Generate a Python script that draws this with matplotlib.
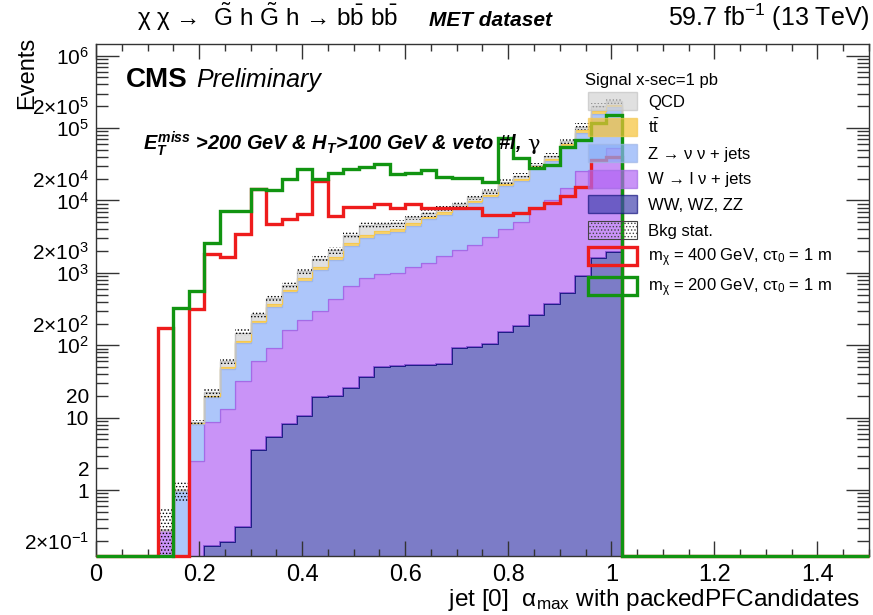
import numpy as np
import matplotlib.pyplot as plt
from matplotlib.patches import Patch
from matplotlib.ticker import FixedLocator, FuncFormatter

plt.rcParams['font.family'] = ['Liberation Sans', 'DejaVu Sans']
plt.rcParams['mathtext.fontset'] = 'custom'
plt.rcParams['mathtext.rm'] = 'Liberation Sans'
plt.rcParams['mathtext.it'] = 'Liberation Sans:italic:bold'
plt.rcParams['mathtext.bf'] = 'Liberation Sans:bold'
plt.rcParams['hatch.linewidth'] = 0.6

# 50 bins of width 0.03 between 0 and 1.5
edges = np.arange(51) * 0.03

# background yields per bin (events)
ww = [0, 0, 0, 0, 0, 0, 0, 0.17, 0.19, 0.31, 3.6, 5.4, 8.3, 10.4, 19.3, 19.8, 26, 37, 50, 52,
      53, 54, 55, 91, 96, 105, 152, 187, 265, 373, 530, 915, 1600, 1950, 0, 0, 0, 0, 0, 0,
      0, 0, 0, 0, 0, 0, 0, 0, 0, 0]
wjets = [0, 0, 0, 0, 0.28, 0, 2.5, 8.5, 12.9, 31.4, 56.2, 86.6, 156.7, 213.6, 281.7, 421, 641, 808, 910, 955,
         1164, 1298, 1645, 1979, 2344, 3075, 3868, 4913, 7335, 9727, 14470, 24685, 35400, 51550, 0, 0, 0, 0, 0, 0,
         0, 0, 0, 0, 0, 0, 0, 0, 0, 0]
zjets = [0, 0, 0, 0, 0, 1.0, 5.8, 10.6, 34.3, 75.3, 142, 250, 374, 557, 796, 1069, 1703, 2175, 2470, 2693,
         3253, 4148, 4700, 5630, 6910, 8120, 11780, 13300, 21400, 25000, 41500, 60700, 120000, 139500, 0, 0, 0, 0, 0, 0,
         0, 0, 0, 0, 0, 0, 0, 0, 0, 0]
ttbar = [0, 0, 0, 0, 0, 0, 0.1, 0.6, 2.6, 8, 18, 30, 41, 69, 103, 130, 210, 280, 320, 280,
         380, 400, 480, 500, 600, 750, 900, 1100, 700, 2400, 3500, 6700, 13000, 15000, 0, 0, 0, 0, 0, 0,
         0, 0, 0, 0, 0, 0, 0, 0, 0, 0]
qcd = [0, 0, 0, 0, 0, 0, 0.2, 2.5, 10, 35, 50, 78, 90, 210, 380, 440, 720, 1250, 950, 880,
       1040, 740, 760, 760, 1150, 1550, 1100, 2600, 1300, 4000, 6800, 12000, 33000, 28500, 0, 0, 0, 0, 0, 0,
       0, 0, 0, 0, 0, 0, 0, 0, 0, 0]
bkg_stat = [0, 0, 0, 0, 0.26, 0.3, 0.8, 3.6, 7, 17, 30, 50, 70, 120, 180, 230, 370, 500, 520, 490,
            590, 660, 760, 900, 1100, 1400, 1800, 2200, 2300, 4200, 6700, 11000, 20000, 24000, 0, 0, 0, 0, 0, 0,
            0, 0, 0, 0, 0, 0, 0, 0, 0, 0]

# signal yields for 1 pb
sig_400 = [0, 0, 0, 0, 174, 0, 318, 1820, 1670, 3430, 14300, 4810, 5520, 6600, 18800, 6140, 8160, 8160, 9080, 8000,
           9080, 8000, 8000, 7800, 7800, 6340, 6340, 6820, 8000, 9350, 11600, 15200, 36000, 40500, 0, 0, 0, 0, 0, 0,
           0, 0, 0, 0, 0, 0, 0, 0, 0, 0]
sig_200 = [0, 0, 0, 0, 0, 328, 569, 2550, 7190, 7190, 14300, 13800, 20000, 26900, 19600, 24300, 26900, 29000, 31600, 23500,
           24300, 26000, 21400, 20700, 20700, 18000, 72000, 39000, 27800, 30800, 54700, 68700, 118000, 150000, 0, 0, 0, 0, 0, 0,
           0, 0, 0, 0, 0, 0, 0, 0, 0, 0]

ymin, ymax = 0.123, 1.45e6
floor = 1e-3

fig = plt.figure(figsize=(8.73, 6.15), dpi=100)
ax = fig.add_axes([96 / 873, 59 / 615, 773 / 873, 512 / 615])
ax.set_yscale('log')

# stacked backgrounds, bottom to top
layers = [
    (ww, '#4545b0', '#161680', 1.3),
    (wjets, '#b265f4', '#a46be6', 1.0),
    (zjets, '#8aaef8', '#9fb6e6', 1.0),
    (ttbar, '#f6c236', '#f5c850', 1.0),
    (qcd, '#d3d3d3', '#c4c4c4', 1.0),
]
bottom = np.zeros(50)
for vals, fc, ec, lw in layers:
    top = bottom + np.array(vals, dtype=float)
    ax.stairs(np.maximum(top, floor), edges, baseline=np.maximum(bottom, floor),
              fill=True, facecolor=fc, alpha=0.7, linewidth=0)
    ax.stairs(np.maximum(top, floor), edges, color=ec, linewidth=lw)
    bottom = top
total = bottom

# statistical uncertainty band on the total background
err = np.array(bkg_stat, dtype=float)
ax.stairs(np.maximum(total + err, floor), edges, baseline=np.maximum(total - err, floor),
          fill=True, facecolor='none', edgecolor='black', hatch='.....', linewidth=0)

# signals, empty bins sit on the frame
ax.stairs(np.maximum(sig_400, ymin), edges, baseline=None, color='#ee1c1c', linewidth=2.4,
          clip_on=False, zorder=3)
ax.stairs(np.maximum(sig_200, ymin), edges, baseline=None, color='#119411', linewidth=2.4,
          clip_on=False, zorder=3)

ax.set_xlim(0, 1.5)
ax.set_ylim(ymin, ymax)

# axis ticks
ax.xaxis.set_major_locator(FixedLocator(np.arange(0, 1.41, 0.2)))
ax.xaxis.set_minor_locator(FixedLocator(np.arange(0, 1.51, 0.05)))
ax.xaxis.set_major_formatter(FuncFormatter(lambda v, p: '%g' % round(v, 2)))
ax.yaxis.set_major_locator(FixedLocator([10.0 ** n for n in range(-1, 7)]))
ax.yaxis.set_minor_locator(FixedLocator([m * 10.0 ** n for n in range(-1, 6) for m in range(2, 10)]))


def major_label(v, pos):
    n = int(round(np.log10(v)))
    if n == 0:
        return '1'
    if n == 1:
        return '10'
    return r'$\mathrm{10^{%d}}$' % n


def minor_label(v, pos):
    n = int(np.floor(np.log10(v) + 1e-9))
    m = int(round(v / 10.0 ** n))
    if m != 2:
        return ''
    if n == 0:
        return '2'
    if n == 1:
        return '20'
    return r'$\mathrm{2{\times}10^{%d}}$' % n


ax.yaxis.set_major_formatter(FuncFormatter(major_label))
ax.yaxis.set_minor_formatter(FuncFormatter(minor_label))

ax.tick_params(which='both', direction='in', top=True, right=True, color='#333333', width=1)
ax.tick_params(axis='x', which='major', length=11, labelsize=17, pad=6)
ax.tick_params(axis='x', which='minor', length=5.3)
ax.tick_params(axis='y', which='major', length=16.5, labelsize=15, pad=5)
ax.tick_params(axis='y', which='minor', length=8.6, labelsize=15, pad=5)
for sp in ax.spines.values():
    sp.set_color('#333333')
    sp.set_linewidth(1)

# labels and annotations


def fx(x):
    return x / 873


def fy(y):
    return 1 - y / 615


fig.text(fx(860), fy(606), r'jet [0]  $\mathrm{\alpha_{max}}$ with packedPFCandidates',
         ha='right', va='baseline', fontsize=17.6)
fig.text(fx(27), fy(37), 'Events', rotation=90, ha='center', va='top', fontsize=17)

fig.text(fx(137), fy(26),
         r'χ χ →  $\tilde{\mathrm{G}}$ h $\tilde{\mathrm{G}}$ h → b$\bar{\mathrm{b}}$ b$\bar{\mathrm{b}}$',
         ha='left', va='baseline', fontsize=17.5)
fig.text(fx(429), fy(26), 'MET dataset', ha='left', va='baseline', fontsize=15,
         fontweight='bold', style='italic')
fig.text(fx(870), fy(26), r'59.7 fb$\mathrm{^{-1}}$ (13 TeV)', ha='right', va='baseline', fontsize=18)

fig.text(fx(126), fy(87), 'CMS', ha='left', va='baseline', fontsize=20, fontweight='bold')
fig.text(fx(196), fy(87), 'Preliminary', ha='left', va='baseline', fontsize=18, style='italic')
sel = fig.text(fx(143), fy(150),
               r'$\mathit{E_{T}^{miss}}$ >200 GeV & H$\mathit{_{T}}$>100 GeV & veto #l,',
               ha='left', va='baseline', fontsize=14.4, fontweight='bold', style='italic')
renderer = fig.canvas.get_renderer()
sel_box = sel.get_window_extent(renderer)
fig.text((sel_box.x1 + 6) / 873, fy(150), 'γ', ha='left', va='baseline', fontsize=15,
         family=['DejaVu Serif'])

fig.text(fx(585), fy(85), 'Signal x-sec=1 pb', ha='left', va='baseline', fontsize=12)

handles = [
    Patch(facecolor='#d3d3d3', edgecolor='#c4c4c4', alpha=0.7),
    Patch(facecolor='#f6c236', edgecolor='#f5c850', alpha=0.7),
    Patch(facecolor='#8aaef8', edgecolor='#9fb6e6', alpha=0.7),
    Patch(facecolor='#b265f4', edgecolor='#a46be6', alpha=0.7),
    Patch(facecolor='#4545b0', edgecolor='#161680', alpha=0.7),
    Patch(facecolor='none', edgecolor='#444444', hatch='.....', linewidth=0.8),
    Patch(facecolor='none', edgecolor='#ee1c1c', linewidth=2.4),
    Patch(facecolor='none', edgecolor='#119411', linewidth=2.4),
]
labels = [
    'QCD',
    r't$\mathrm{\bar{t}}$',
    'Z → ν ν + jets',
    'W → l ν + jets',
    'WW, WZ, ZZ',
    'Bkg stat.',
    r'm$\mathrm{_{\chi}}$ = 400 GeV, c$\mathrm{\tau_{0}}$ = 1 m',
    r'm$\mathrm{_{\chi}}$ = 200 GeV, c$\mathrm{\tau_{0}}$ = 1 m',
]
fig.legend(handles, labels, loc='upper left', bbox_to_anchor=(fx(588), fy(92)),
           frameon=False, fontsize=12, handlelength=2.95, handleheight=1.3,
           handletextpad=0.65, labelspacing=0.45, borderpad=0, borderaxespad=0)

fig.savefig('out.png', dpi=100)
